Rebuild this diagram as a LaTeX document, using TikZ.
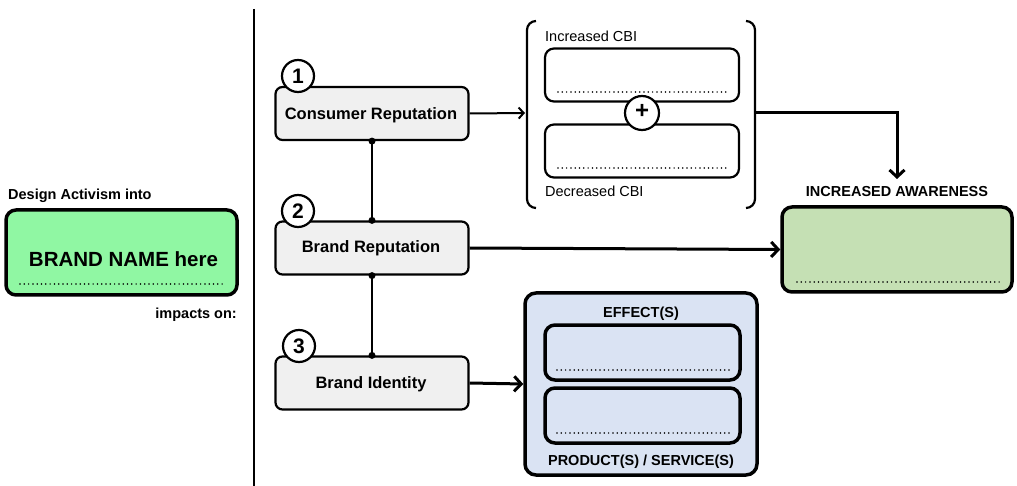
\documentclass[tikz,border=0pt]{standalone}
\usepackage{fontspec}
\setmainfont{Liberation Sans}
\usetikzlibrary{arrows.meta}
\definecolor{brandgreen}{HTML}{90F7A3}
\definecolor{awaregreen}{HTML}{C5E0B4}
\definecolor{effblue}{HTML}{DAE3F3}
\definecolor{boxgray}{HTML}{F0F0F0}
\begin{document}
\begin{tikzpicture}[x=1pt,y=-1pt,
  repbox/.style={draw, line width=2.2pt, rounded corners=7pt, fill=boxgray, minimum width=193pt, minimum height=53pt, inner sep=0pt},
  numc/.style={draw, circle, line width=2.2pt, fill=white, minimum size=32pt, inner sep=0pt, font=\bfseries\fontsize{21}{21}\selectfont},
  lbl/.style={font=\bfseries\fontsize{16.5}{18}\selectfont, inner sep=0pt},
  smallb/.style={font=\bfseries\fontsize{14.5}{16}\selectfont, inner sep=0pt},
  smallr/.style={font=\fontsize{14.5}{16}\selectfont, inner sep=0pt},
  cbibox/.style={draw, line width=2.2pt, rounded corners=9pt, fill=white, minimum width=194pt, minimum height=53pt, inner sep=0pt},
  bigbox/.style={draw, line width=3.5pt, rounded corners=10pt, inner sep=0pt},
  effbox/.style={draw, line width=3.5pt, rounded corners=10pt, fill=effblue, minimum width=195pt, minimum height=55pt, inner sep=0pt},
  dotline/.style={line width=1.7pt, dash pattern=on 0pt off 4.3pt, line cap=round},
  thinarrow/.style={line width=2pt, -{Straight Barb[length=5pt,width=11pt,line width=2pt]}},
  thickarrow/.style={line width=3pt, -{Straight Barb[length=7pt,width=15pt,line width=3pt]}},
  joint/.style={circle, fill=black, inner sep=0pt, minimum size=7pt}
]
\useasboundingbox (0,0) rectangle (1017,486);

% divider
\coordinate (divtop) at (254,9);
\coordinate (divbot) at (254,486);
\draw[line width=2pt] (divtop) -- (divbot);

% left brand box
\node[smallb, anchor=base west] (design) at (8,200) {Design Activism into};
\node[bigbox, fill=brandgreen, minimum width=231pt, minimum height=85pt] (brand) at (121.5,252.5) {};
\node[font=\bfseries\fontsize{20.5}{22}\selectfont, inner sep=0pt, anchor=base] (brandtxt) at (123.5,267) {BRAND NAME here};
\draw[dotline] (20,284) -- (225,284);
\node[smallb, anchor=base east] (impacts) at (237,318) {impacts on:};

% reputation boxes
\node[repbox] (cons) at (372,113.5) {};
\node[lbl, anchor=base] (constxt) at (371,120) {Consumer Reputation};
\node[repbox] (brep) at (372,248) {};
\node[lbl, anchor=base] (breptxt) at (371,253) {Brand Reputation};
\node[repbox] (bid) at (372,383) {};
\node[lbl, anchor=base] (bidtxt) at (371,388) {Brand Identity};

\node[numc] (n1) at (298,76) {1};
\node[numc] (n2) at (298,211) {2};
\node[numc] (n3) at (299,346) {3};

% vertical connectors
\draw[line width=2pt] (cons.south) -- (brep.north);
\draw[line width=2pt] (brep.south) -- (bid.north);
\node[joint] (j1) at (cons.south) {};
\node[joint] (j2) at (brep.north) {};
\node[joint] (j3) at (brep.south) {};
\node[joint] (j4) at (bid.north) {};

% CBI bracket group
\draw[line width=2.2pt, rounded corners=9pt] (536,21) -- (527,21) -- (527,208) -- (536,208);
\draw[line width=2.2pt, rounded corners=9pt] (746,21) -- (755,21) -- (755,208) -- (746,208);
\coordinate (brL) at (525,113);
\coordinate (brR) at (756,113);
\node[smallr, anchor=base west] (inccbi) at (545,42) {Increased CBI};
\node[cbibox] (incbox) at (642,75) {};
\draw[dotline] (558,92) -- (728,92);
\node[cbibox] (decbox) at (642,151) {};
\draw[dotline] (558,168) -- (728,168);
\node[smallr, anchor=base west] (deccbi) at (545,197) {Decreased CBI};
\node[draw, circle, line width=2.2pt, fill=white, minimum size=34pt, inner sep=0pt] (plus) at (642,113) {};
\node[font=\bfseries\fontsize{24}{24}\selectfont, inner sep=0pt] (plustxt) at (642,111.5) {+};

\draw[thinarrow] (cons.east) -- (brL);

% awareness
\node[smallb, anchor=base] (awaretxt) at (897,197) {INCREASED AWARENESS};
\node[bigbox, fill=awaregreen, minimum width=230pt, minimum height=85pt] (aware) at (897,249.5) {};
\draw[dotline] (797,282) -- (1002,282);
\coordinate (awtop) at (897,179);
\draw[thickarrow] (brR) -| (awtop);
\draw[thickarrow] (brep.east) -- (aware.west);

% effects
\node[bigbox, fill=effblue, minimum width=232pt, minimum height=182pt, rounded corners=11pt] (eff) at (641,384) {};
\node[smallb, anchor=base] (efftxt) at (641,317) {EFFECT(S)};
\node[effbox] (e1) at (642.5,352.5) {};
\draw[dotline] (557,370) -- (730,370);
\node[effbox] (e2) at (642.5,415.5) {};
\draw[dotline] (557,433) -- (730,433);
\node[smallb, anchor=base] (prodtxt) at (641,465) {PRODUCT(S) / SERVICE(S)};
\draw[thickarrow] (bid.east) -- (eff.west);
\end{tikzpicture}
\end{document}
